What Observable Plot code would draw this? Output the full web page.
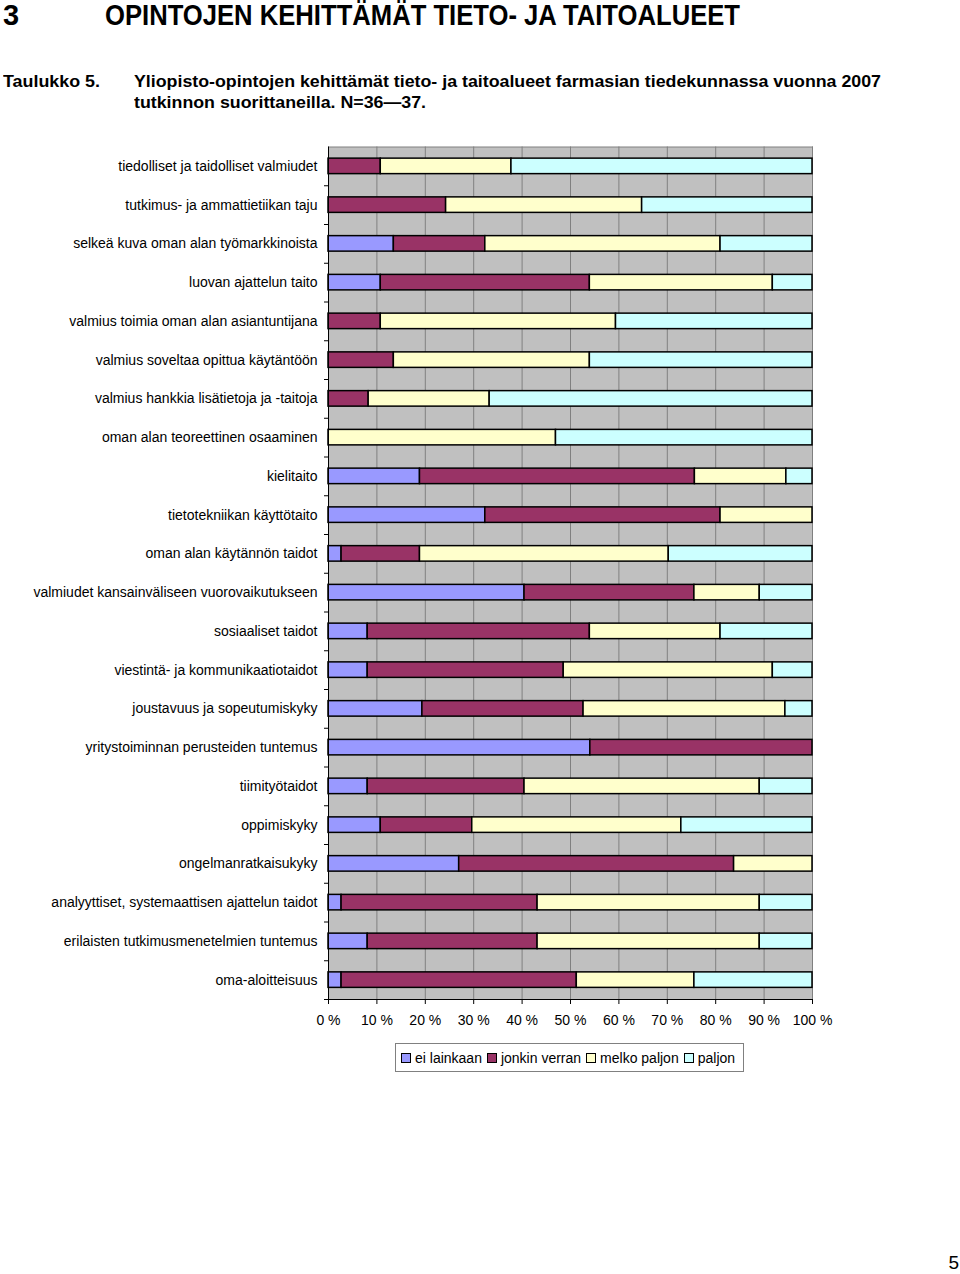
<!DOCTYPE html>
<html>
<head>
<meta charset="utf-8">
<script src="https://cdn.jsdelivr.net/npm/d3@7"></script>
<script src="https://cdn.jsdelivr.net/npm/@observablehq/plot@0.6"></script>
<style>
  body { margin: 0; background: #fff; font-family: "Liberation Sans", Arial, sans-serif; color: #000; }
  #page { position: relative; width: 960px; height: 1274px; overflow: hidden; background: #fff; }
  .abs { position: absolute; white-space: nowrap; line-height: normal; }
  .fit { transform-origin: 0 0; display: inline-block; }
  #chart { position: absolute; left: 0; top: 120px; }
  #legend { position: absolute; left: 395px; top: 1043px; width: 347px; height: 27px; border: 1px solid #808080;
            display: flex; align-items: center; font-size: 14px; box-sizing: content-box; }
  #legend .item { display: flex; align-items: center; margin-left: 5px; }
  #legend .sw { width: 8px; height: 8px; border: 1px solid #000; margin-right: 4px; }
</style>
</head>
<body>
<div id="page">
  <div class="abs" style="left:3px; top:-1px; font-size:29px; font-weight:bold;">3</div>
  <div class="abs" style="left:105px; top:-1px; font-size:29px; font-weight:bold;"><span class="fit" data-w="635">OPINTOJEN KEHITTÄMÄT TIETO- JA TAITOALUEET</span></div>
  <div class="abs" style="left:3px; top:73px; font-size:16px; font-weight:bold;"><span class="fit" data-w="97">Taulukko 5.</span></div>
  <div class="abs" style="left:134px; top:73px; font-size:16px; font-weight:bold;"><span class="fit" id="sub1" data-w="747">Yliopisto-opintojen kehittämät tieto- ja taitoalueet farmasian tiedekunnassa vuonna 2007</span></div>
  <div class="abs" style="left:134px; top:94px; font-size:16px; font-weight:bold;"><span class="fit" id="sub2">tutkinnon suorittaneilla. N=36—37.</span></div>
  <div id="chart"></div>
  <div id="legend"></div>
  <div class="abs" style="right:1px; top:1252px; font-size:19px;">5</div>
</div>
<script>
const categories = [
  "tiedolliset ja taidolliset valmiudet",
  "tutkimus- ja ammattietiikan taju",
  "selkeä kuva oman alan työmarkkinoista",
  "luovan ajattelun taito",
  "valmius toimia oman alan asiantuntijana",
  "valmius soveltaa opittua käytäntöön",
  "valmius hankkia lisätietoja ja -taitoja",
  "oman alan teoreettinen osaaminen",
  "kielitaito",
  "tietotekniikan käyttötaito",
  "oman alan käytännön taidot",
  "valmiudet kansainväliseen vuorovaikutukseen",
  "sosiaaliset taidot",
  "viestintä- ja kommunikaatiotaidot",
  "joustavuus ja sopeutumiskyky",
  "yritystoiminnan perusteiden tuntemus",
  "tiimityötaidot",
  "oppimiskyky",
  "ongelmanratkaisukyky",
  "analyyttiset, systemaattisen ajattelun taidot",
  "erilaisten tutkimusmenetelmien tuntemus",
  "oma-aloitteisuus"
];
const eiLainkaan   = [0, 0, 13.5, 10.8, 0, 0, 0, 0, 18.9, 32.4, 2.7, 40.5, 8.1, 8.1, 19.4, 54.1, 8.1, 10.8, 27.0, 2.7, 8.1, 2.7];
const jonkinVerran = [10.8, 24.3, 18.9, 43.2, 10.8, 13.5, 8.3, 0, 56.8, 48.6, 16.2, 35.1, 45.9, 40.5, 33.3, 45.9, 32.4, 18.9, 56.8, 40.5, 35.1, 48.6];
const melkoPaljon  = [27.0, 40.5, 48.6, 37.8, 48.6, 40.5, 25.0, 47.0, 18.9, 19.0, 51.4, 13.5, 27.0, 43.2, 41.7, 0, 48.6, 43.2, 16.2, 45.9, 45.9, 24.3];
const paljon       = [62.2, 35.2, 19.0, 8.2, 40.6, 46.0, 66.7, 53.0, 5.4, 0, 29.7, 10.9, 19.0, 8.2, 5.6, 0, 10.9, 27.1, 0, 10.9, 10.9, 24.4];
const seriesNames  = ["ei lainkaan", "jonkin verran", "melko paljon", "paljon"];
const seriesColors = ["#9999ff", "#993366", "#ffffcc", "#ccffff"];
const xTicks = [0, 10, 20, 30, 40, 50, 60, 70, 80, 90, 100];

const seriesValues = [eiLainkaan, jonkinVerran, melkoPaljon, paljon];
const rows = [];
seriesNames.forEach((s, si) => {
  categories.forEach((c, i) => rows.push({category: c, series: s, value: seriesValues[si][i]}));
});

const H = 920, mTop = 26.5, mBottom = 41;
const step = (H - mTop - mBottom) / categories.length;

const chart = Plot.plot({
  width: 960,
  height: H,
  marginLeft: 328,
  marginRight: 148,
  marginTop: mTop,
  marginBottom: mBottom,
  style: {fontFamily: "'Liberation Sans', Arial, sans-serif", fontSize: "14px", color: "#000", background: "transparent"},
  x: {domain: [0, 100], label: null},
  y: {domain: categories, paddingInner: 0.6, paddingOuter: 0.3, round: false, label: null},
  color: {domain: seriesNames, range: seriesColors},
  marks: [
    Plot.frame({fill: "#c0c0c0", stroke: null}),
    Plot.gridX(xTicks.slice(1), {stroke: "#808080", strokeOpacity: 1, strokeWidth: 1}),
    Plot.frame({stroke: "#808080", fill: null}),
    Plot.barX(rows.filter(d => d.value > 0), Plot.stackX({x: "value", y: "category", fill: "series", stroke: "#000", strokeWidth: 1.5})),
    Plot.ruleX([0], {stroke: "#000"}),
    Plot.ruleY([categories[categories.length - 1]], {stroke: "#000", dy: step / 2}),
    Plot.axisX(xTicks, {tickSize: 5, tickPadding: 11, tickFormat: d => d + " %", stroke: "#000", fill: "#000", label: null}),
    Plot.axisY({tickSize: 0, tickPadding: 11, fill: "#000", label: null}),
    Plot.axisY({tickSize: 4, fill: "none", stroke: "#000", dy: step / 2, label: null})
  ]
});
document.getElementById("chart").appendChild(chart);

const legend = document.getElementById("legend");
seriesNames.forEach((s, i) => {
  const item = document.createElement("div");
  item.className = "item";
  const sw = document.createElement("div");
  sw.className = "sw";
  sw.style.background = seriesColors[i];
  const t = document.createElement("span");
  t.textContent = s;
  item.appendChild(sw);
  item.appendChild(t);
  legend.appendChild(item);
});

// fit heading widths
let subScale = 1;
document.querySelectorAll(".fit[data-w]").forEach(el => {
  const w = el.getBoundingClientRect().width;
  const s = +el.dataset.w / w;
  el.style.transform = `scaleX(${s})`;
  if (el.id === "sub1") subScale = s;
});
document.getElementById("sub2").style.transform = `scaleX(${subScale})`;
</script>
</body>
</html>
